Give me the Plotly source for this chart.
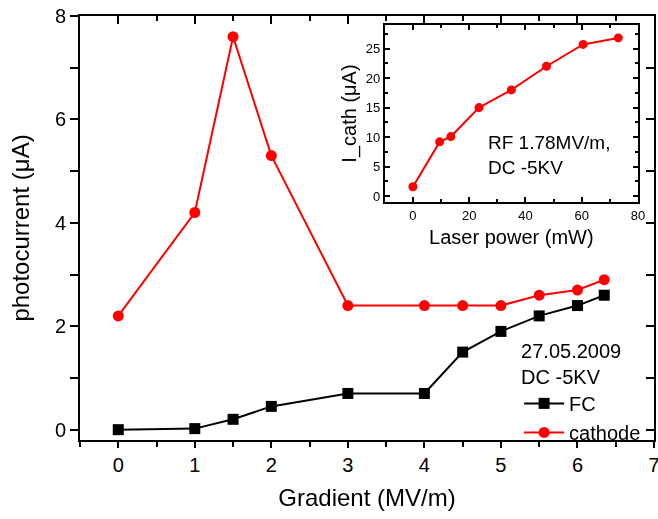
import plotly.graph_objects as go

# Main chart data
gradient = [0, 1, 1.5, 2, 3, 4, 4.5, 5, 5.5, 6, 6.35]
fc = [0, 0.02, 0.2, 0.45, 0.7, 0.7, 1.5, 1.9, 2.2, 2.4, 2.6]
cathode = [2.2, 4.2, 7.6, 5.3, 2.4, 2.4, 2.4, 2.4, 2.6, 2.7, 2.9]

# Inset data
laser_power = [0, 9.5, 13.5, 23.5, 35, 47.5, 60.5, 73]
i_cath = [1.6, 9.2, 10.1, 15, 18, 22, 25.7, 26.8]

FONT = "Liberation Sans, Arial, sans-serif"

fig = go.Figure()
fig.add_trace(go.Scatter(x=gradient, y=fc, mode="lines+markers", name="FC",
                         line=dict(color="black", width=2),
                         marker=dict(symbol="square", size=11, color="black"),
                         xaxis="x", yaxis="y"))
fig.add_trace(go.Scatter(x=gradient, y=cathode, mode="lines+markers", name="cathode",
                         line=dict(color="#ff0000", width=2),
                         marker=dict(symbol="circle", size=11, color="#ff0000"),
                         xaxis="x", yaxis="y"))
# invisible trace on mirror axes (to get inward ticks on top/right)
fig.add_trace(go.Scatter(x=gradient, y=fc, mode="markers", opacity=0, showlegend=False,
                         hoverinfo="skip", xaxis="x3", yaxis="y3"))
# inset
fig.add_trace(go.Scatter(x=laser_power, y=i_cath, mode="lines+markers", showlegend=False,
                         line=dict(color="#ff0000", width=2),
                         marker=dict(symbol="circle", size=9, color="#ff0000"),
                         xaxis="x2", yaxis="y2"))

ax_common = dict(showline=True, linecolor="black", linewidth=2, showgrid=False,
                 zeroline=False, tickcolor="black", tickwidth=1.5, automargin=False)

inset_x = [0.531, 0.972]
inset_y = [0.561, 0.979]

fig.update_layout(
    width=658, height=519,
    margin=dict(l=80, r=4, t=16, b=79, autoexpand=False),
    paper_bgcolor="white", plot_bgcolor="white",
    font=dict(family=FONT, color="black"),
    xaxis=dict(**ax_common, range=[-0.5, 7], domain=[0, 1], tickvals=[0, 1, 2, 3, 4, 5, 6, 7],
               ticks="outside", ticklen=6, tickfont=dict(size=20), ticklabeloverflow="allow",
               minor=dict(dtick=0.5, tick0=0, ticks="outside", ticklen=5, tickcolor="black"),
               title=dict(text="Gradient (MV/m)", font=dict(size=24), standoff=14),
               anchor="y"),
    yaxis=dict(**ax_common, range=[-0.2, 8], domain=[0, 1], tickvals=[0, 2, 4, 6, 8],
               ticks="outside", ticklen=8, tickfont=dict(size=20),
               minor=dict(dtick=1, tick0=0, ticks="outside", ticklen=8, tickcolor="black"),
               title=dict(text="photocurrent (\u03bcA)", font=dict(size=24), standoff=18),
               anchor="x"),
    xaxis3=dict(**ax_common, range=[-0.5, 7], overlaying="x", side="top", anchor="y3",
                tickvals=[0, 1, 2, 3, 4, 5, 6, 7], ticks="inside", ticklen=8,
                showticklabels=False,
                minor=dict(dtick=0.5, tick0=0, ticks="inside", ticklen=5, tickcolor="black")),
    yaxis3=dict(**ax_common, range=[-0.2, 8], overlaying="y", side="right", anchor="x3",
                tickvals=[0, 2, 4, 6, 8], ticks="inside", ticklen=8, showticklabels=False,
                minor=dict(dtick=1, tick0=0, ticks="inside", ticklen=8, tickcolor="black")),
    xaxis2=dict(**ax_common, range=[-10, 80], domain=inset_x, anchor="y2", mirror="ticks",
                tickvals=[0, 20, 40, 60, 80], ticks="inside", ticklen=5,
                tickfont=dict(size=13), ticklabeloverflow="allow",
                minor=dict(dtick=10, tick0=0, ticks="inside", ticklen=3, tickcolor="black"),
                title=dict(text="Laser power (mW)", font=dict(size=20), standoff=8)),
    yaxis2=dict(**ax_common, range=[-1, 29], domain=inset_y, anchor="x2", mirror="ticks",
                tickvals=[0, 5, 10, 15, 20, 25], ticks="inside", ticklen=5,
                tickfont=dict(size=13),
                minor=dict(dtick=2.5, tick0=0, ticks="inside", ticklen=3, tickcolor="black"),
                title=dict(text="I_cath (\u03bcA)", font=dict(size=20), standoff=4)),
    legend=dict(x=0.765, y=0.255, xanchor="left", yanchor="top", bgcolor="rgba(0,0,0,0)",
                font=dict(size=20), tracegroupgap=0, itemwidth=40,
                title=dict(text="27.05.2009<br>DC -5KV", font=dict(size=20))),
    annotations=[dict(text="RF 1.78MV/m,<br>DC -5KV", xref="x2", yref="y2", x=26, y=7,
                      xanchor="left", yanchor="middle", showarrow=False, align="left",
                      font=dict(size=19))],
    showlegend=True,
)

fig.write_html("out.html", config={"displayModeBar": False},
               post_script="document.body.style.margin='0';document.body.style.overflow='hidden';")
